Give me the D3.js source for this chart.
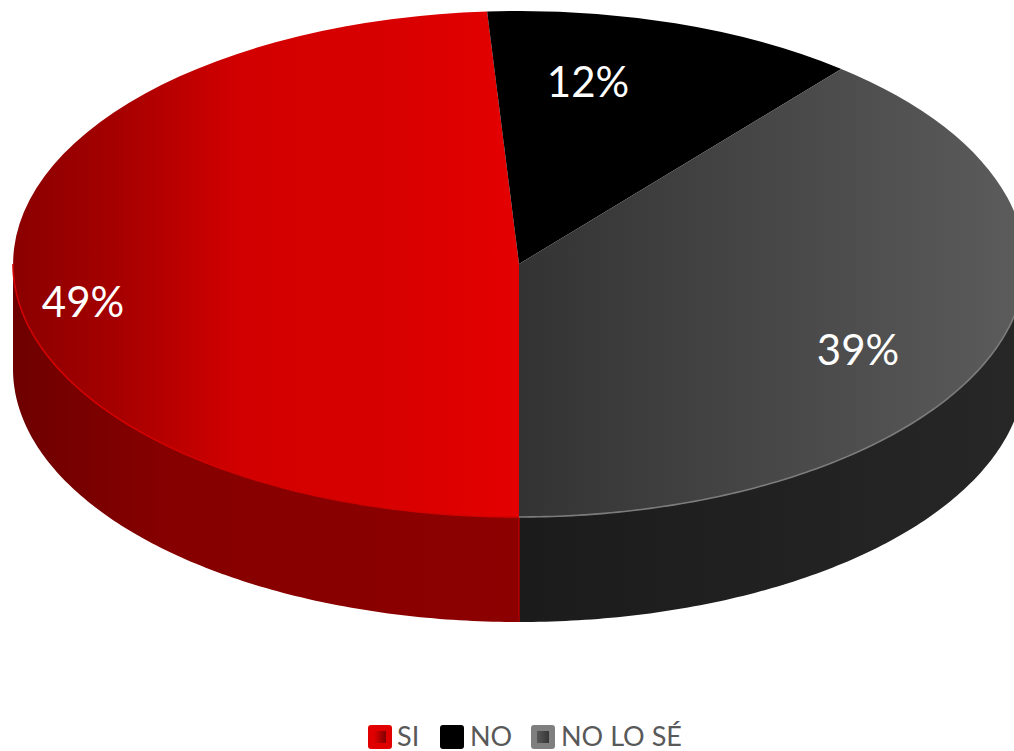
<!DOCTYPE html>
<html><head><meta charset="utf-8">
<style>html,body{margin:0;padding:0;background:#fff;overflow:hidden}svg{display:block}</style>
<script src="https://cdn.jsdelivr.net/npm/d3@7/dist/d3.min.js"></script>
</head><body><div id="c"></div>
<script>
const categories = ["SI", "NO", "NO LO SÉ"];
const values = [49, 12, 39];
const labels = ["49%", "12%", "39%"];

const W = 1014, H = 751;
const cx = 519, cy = 264, rx = 506, ry = 253, depth = 105;
const labelCentres = [[83, 301], [588, 81], [858, 349]];
const legendLayout = [{sw: 368, tx: 397}, {sw: 440, tx: 470}, {sw: 531, tx: 561}];
const font = "Lato, Carlito, 'Open Sans', sans-serif";

const svg = d3.select("#c").append("svg").attr("width", W).attr("height", H);
const defs = svg.append("defs");
function grad(id, x1, x2, stops) {
  const g = defs.append("linearGradient").attr("id", id)
    .attr("gradientUnits", "userSpaceOnUse")
    .attr("x1", x1).attr("x2", x2).attr("y1", 0).attr("y2", 0);
  stops.forEach(s => g.append("stop").attr("offset", s[0]).attr("stop-color", s[1]));
}
// the top of the disc is drawn in unit space, so its gradients run over -1..1
grad("topRed", -1, 0, [[0, "#8a0000"], [0.22, "#a80000"], [0.45, "#d20000"], [0.75, "#d80000"], [1, "#e40000"]]);
grad("topGrey", 0, 1, [[0, "#333333"], [0.5, "#474747"], [1, "#5c5c5c"]]);
grad("sideRed", 13, 519, [[0, "#6e0000"], [0.3, "#860000"], [1, "#8c0000"]]);
grad("sideGrey", 519, 1025, [[0, "#1b1b1b"], [1, "#272727"]]);
grad("swRed", 374, 386, [[0, "#e00000"], [1, "#800000"]]);
grad("swGrey", 538, 550, [[0, "#555555"], [1, "#333333"]]);

const topFill = ["url(#topRed)", "#000000", "url(#topGrey)"];
const sideFill = ["url(#sideRed)", "#000000", "url(#sideGrey)"];
const edge = ["#d20000", "none", "#7c7c7c"];
const swatchOuter = ["#e00000", "#000000", "#7f7f7f"];
const swatchInner = ["url(#swRed)", null, "url(#swGrey)"];

const x = d3.scaleLinear().domain([-1, 1]).range([cx - rx, cx + rx]);
const y = d3.scaleLinear().domain([-1, 1]).range([cy - ry, cy + ry]);

const pie = d3.pie().sort(null).value(d => d).startAngle(Math.PI).endAngle(3 * Math.PI);
const arcs = pie(values);
const arcGen = d3.arc().innerRadius(0).outerRadius(1);
const px = a => x(Math.sin(a));
const py = a => y(-Math.cos(a));

// visible front part of a slice: clock angles 90..270 deg
function frontAngles(d) {
  const a0 = Math.max(d.startAngle, Math.PI / 2), a1 = Math.min(d.endAngle, 3 * Math.PI / 2);
  const b0 = Math.max(d.startAngle - 2 * Math.PI, Math.PI / 2), b1 = Math.min(d.endAngle - 2 * Math.PI, 3 * Math.PI / 2);
  const from = a1 > a0 ? a0 : b0, to = a1 > a0 ? a1 : b1;
  if (to <= from) return null;
  return d3.range(0, 121).map(i => from + (to - from) * i / 120);
}
function wall(d) {
  const ang = frontAngles(d);
  if (!ang) return null;
  const upper = ang.map(a => [px(a), py(a)]);
  const lower = ang.slice().reverse().map(a => [px(a), py(a) + depth]);
  return d3.line()(upper.concat(lower)) + "Z";
}
function rim(d) {
  const ang = frontAngles(d);
  return ang ? d3.line()(ang.map(a => [px(a), py(a)])) : null;
}

const sideG = svg.append("g");
sideG.selectAll("path.wall").data(arcs).join("path").attr("class", "wall")
  .attr("d", wall).attr("fill", (d, i) => sideFill[i]);

// seam between the red and grey walls
sideG.append("path").attr("d", d3.line()([[px(Math.PI), py(Math.PI)], [px(Math.PI), py(Math.PI) + depth]]))
  .attr("stroke", "#b00000").attr("stroke-width", 1.5).attr("fill", "none");

const topG = svg.append("g").attr("transform", `translate(${cx},${cy}) scale(${rx},${ry})`);
topG.selectAll("path").data(arcs).join("path")
  .attr("d", arcGen).attr("fill", (d, i) => topFill[i]);

// bright rim where the top meets the front wall
svg.append("g").selectAll("path").data(arcs).join("path")
  .attr("d", rim).attr("fill", "none")
  .attr("stroke", (d, i) => edge[i]).attr("stroke-width", 1.6);

svg.append("g").selectAll("text").data(labels).join("text")
  .attr("x", (d, i) => labelCentres[i][0]).attr("y", (d, i) => labelCentres[i][1])
  .attr("text-anchor", "middle").attr("dominant-baseline", "central")
  .attr("font-family", font).attr("font-size", 42).attr("fill", "#ffffff")
  .text(d => d);

const leg = svg.append("g").selectAll("g").data(categories).join("g");
leg.append("rect").attr("x", (d, i) => legendLayout[i].sw).attr("y", 725)
  .attr("width", 24).attr("height", 24).attr("rx", 3)
  .attr("fill", (d, i) => swatchOuter[i]);
leg.filter((d, i) => swatchInner[i]).append("rect")
  .attr("x", d => legendLayout[categories.indexOf(d)].sw + 6).attr("y", 731)
  .attr("width", 12).attr("height", 12)
  .attr("fill", d => swatchInner[categories.indexOf(d)]);
leg.append("text").attr("x", (d, i) => legendLayout[i].tx).attr("y", 745.5)
  .attr("font-family", font).attr("font-size", 27).attr("fill", "#595959")
  .text(d => d);
</script></body></html>
